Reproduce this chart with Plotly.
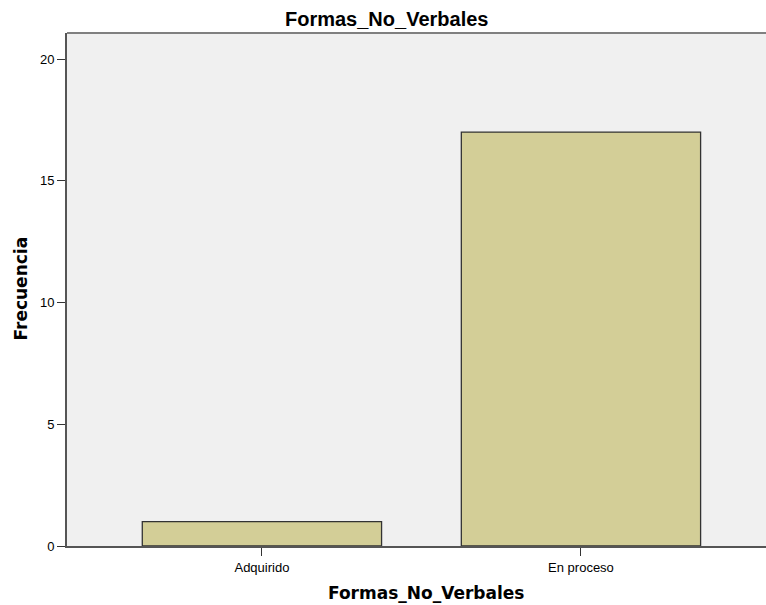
import plotly.graph_objects as go

categories = ["Adquirido", "En proceso"]
frecuencia = [1, 17]
y_ticks = [0, 5, 10, 15, 20]

W, H = 766, 605
L, R, T, B = 67, 0, 33, 59
PW, PH = W - L - R, H - T - B


def px(x):
    return (x - L) / PW


def py(y):
    return (H - B - y) / PH


fig = go.Figure()
fig.add_trace(go.Bar(
    x=categories, y=frecuencia, width=0.75,
    marker=dict(color="#D3CE97", line=dict(color="#333333", width=1.3)),
))

fig.update_layout(
    width=W, height=H,
    margin=dict(l=L, r=R, t=T, b=B),
    paper_bgcolor="white", plot_bgcolor="#F0F0F0",
    font=dict(family="Liberation Sans, Arial, sans-serif", color="#000"),
    showlegend=False,
)
fig.update_xaxes(
    range=[-0.611, 1.58], showgrid=False, zeroline=False,
    showline=True, linecolor="#555", linewidth=2,
    ticks="outside", ticklen=8, tickcolor="#333", tickwidth=1,
    tickfont=dict(size=13),
)
fig.update_yaxes(
    range=[0, 21.07], tickvals=y_ticks, showgrid=False, zeroline=False,
    showline=True, linecolor="#555", linewidth=2,
    ticks="outside", ticklen=8, tickcolor="#333", tickwidth=1,
    tickfont=dict(size=13),
)
fig.add_shape(type="line", xref="paper", yref="paper", x0=0, x1=1, y0=1, y1=1,
              line=dict(color="#808080", width=2))
fig.add_annotation(text="<b>Formas_No_Verbales</b>", xref="paper", yref="paper",
                   x=px(386.5), y=py(18.5), showarrow=False, xanchor="center", yanchor="middle",
                   font=dict(size=20, family="Liberation Sans, Arial, sans-serif"))
fig.add_annotation(text="<b>Formas_No_Verbales</b>", xref="paper", yref="paper",
                   x=px(425.5), y=py(593), showarrow=False, xanchor="center", yanchor="middle",
                   font=dict(size=17, family="DejaVu Sans, sans-serif"))
fig.add_annotation(text="<b>Frecuencia</b>", xref="paper", yref="paper",
                   x=px(20), y=py(288.5), showarrow=False, xanchor="center", yanchor="middle",
                   textangle=-90,
                   font=dict(size=17, family="DejaVu Sans, sans-serif"))
fig.write_html("out.html", config={"displayModeBar": False},
               post_script="document.body.style.margin='0';")
